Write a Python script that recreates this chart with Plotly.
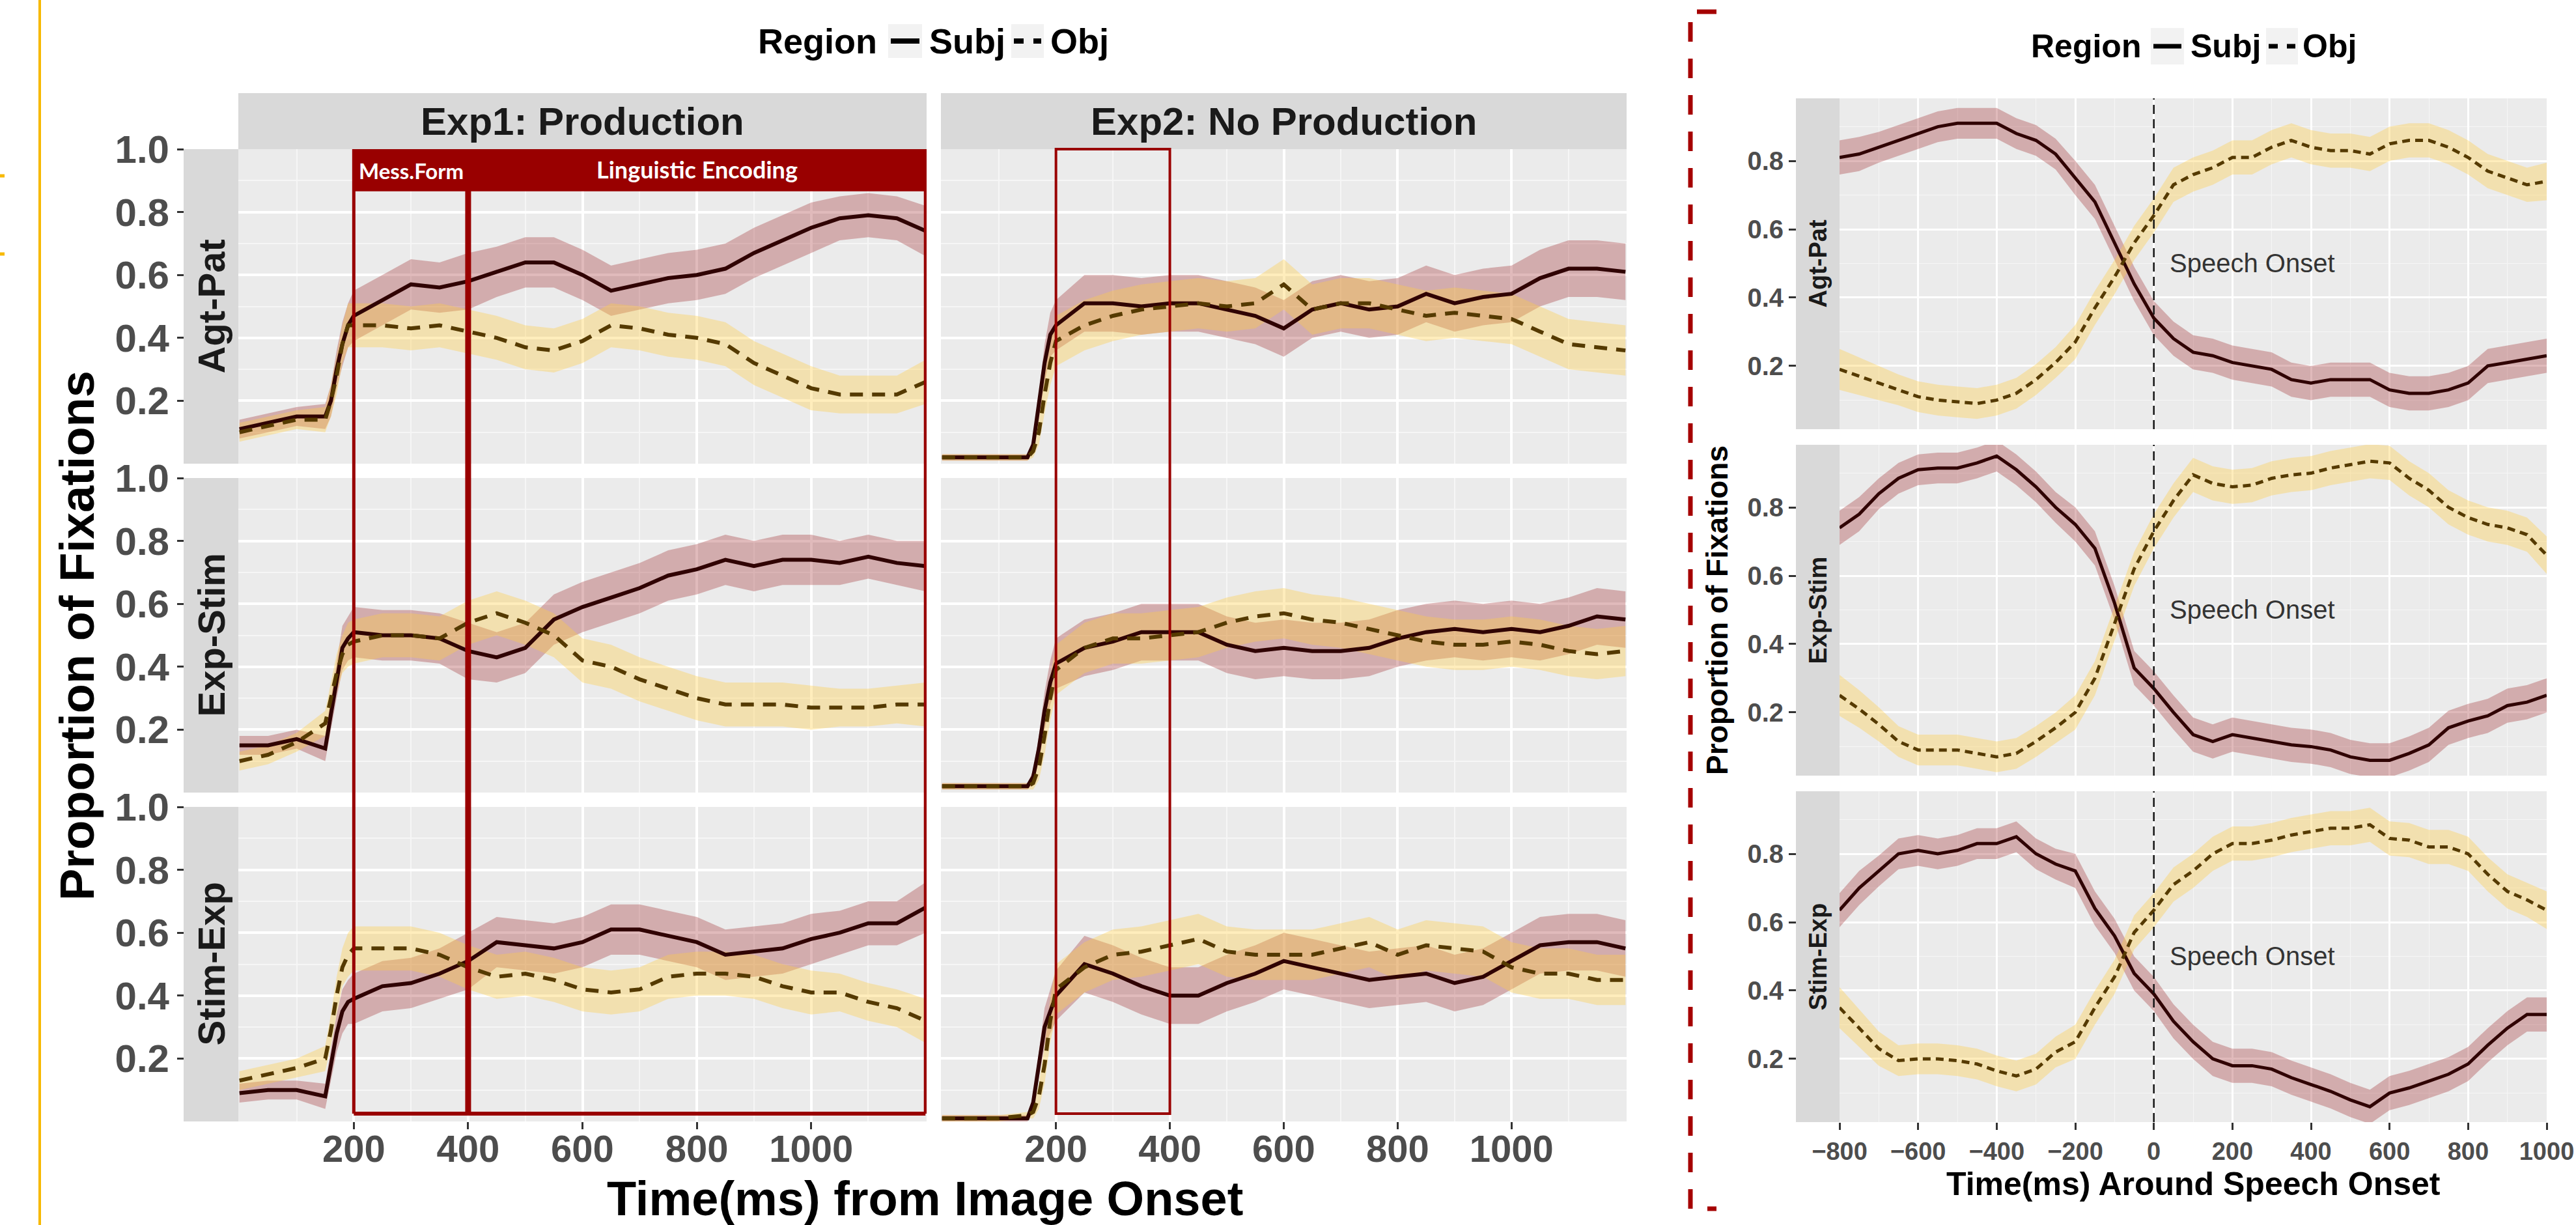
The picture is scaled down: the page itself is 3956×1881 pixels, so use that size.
import plotly.graph_objects as go

# ======================= DATA =======================
T_LEFT = [0, 50, 100, 150, 160, 170, 180, 190, 200, 250, 300, 350, 400, 450, 500, 550,
          600, 650, 700, 750, 800, 850, 900, 950, 1000, 1050, 1100, 1150, 1200]

# Exp1: Production
E1_AP_SUBJ = [0.11, 0.13, 0.15, 0.15, 0.20, 0.30, 0.38, 0.44, 0.47, 0.52, 0.57, 0.56, 0.58, 0.61, 0.64,
              0.64, 0.60, 0.55, 0.57, 0.59, 0.60, 0.62, 0.67, 0.71, 0.75, 0.78, 0.79, 0.78, 0.74]
E1_AP_OBJ = [0.10, 0.12, 0.14, 0.14, 0.20, 0.28, 0.38, 0.44, 0.44, 0.44, 0.43, 0.44, 0.42, 0.40, 0.37,
             0.36, 0.39, 0.44, 0.43, 0.41, 0.40, 0.38, 0.32, 0.28, 0.24, 0.22, 0.22, 0.22, 0.26]
E1_ES_SUBJ = [0.15, 0.15, 0.17, 0.14, 0.25, 0.36, 0.46, 0.49, 0.51, 0.50, 0.50, 0.49, 0.45, 0.43, 0.46,
              0.55, 0.59, 0.62, 0.65, 0.69, 0.71, 0.74, 0.72, 0.74, 0.74, 0.73, 0.75, 0.73, 0.72]
E1_ES_OBJ = [0.10, 0.12, 0.16, 0.22, 0.30, 0.38, 0.44, 0.47, 0.48, 0.50, 0.50, 0.49, 0.54, 0.57, 0.54,
             0.50, 0.42, 0.40, 0.36, 0.33, 0.30, 0.28, 0.28, 0.28, 0.27, 0.27, 0.27, 0.28, 0.28]
E1_SE_SUBJ = [0.09, 0.10, 0.10, 0.08, 0.18, 0.28, 0.35, 0.38, 0.39, 0.43, 0.44, 0.47, 0.51, 0.57, 0.56,
              0.55, 0.57, 0.61, 0.61, 0.59, 0.57, 0.53, 0.54, 0.55, 0.58, 0.60, 0.63, 0.63, 0.68]
E1_SE_OBJ = [0.13, 0.15, 0.17, 0.20, 0.29, 0.40, 0.49, 0.53, 0.55, 0.55, 0.55, 0.53, 0.49, 0.46, 0.47,
             0.45, 0.42, 0.41, 0.42, 0.46, 0.47, 0.47, 0.46, 0.43, 0.41, 0.41, 0.38, 0.36, 0.32]
# Exp2: No Production
E2_AP_SUBJ = [0.02, 0.02, 0.02, 0.02, 0.06, 0.18, 0.32, 0.41, 0.44, 0.51, 0.51, 0.50, 0.51, 0.51, 0.49,
              0.47, 0.43, 0.49, 0.51, 0.49, 0.50, 0.54, 0.51, 0.53, 0.54, 0.59, 0.62, 0.62, 0.61]
E2_AP_OBJ = [0.02, 0.02, 0.02, 0.02, 0.04, 0.10, 0.22, 0.32, 0.39, 0.44, 0.47, 0.49, 0.50, 0.51, 0.50,
             0.51, 0.57, 0.49, 0.51, 0.51, 0.49, 0.47, 0.48, 0.47, 0.46, 0.42, 0.38, 0.37, 0.36]
E2_ES_SUBJ = [0.02, 0.02, 0.02, 0.02, 0.05, 0.14, 0.26, 0.35, 0.41, 0.46, 0.48, 0.51, 0.51, 0.51, 0.47,
              0.45, 0.46, 0.45, 0.45, 0.46, 0.49, 0.51, 0.52, 0.51, 0.52, 0.51, 0.53, 0.56, 0.55]
E2_ES_OBJ = [0.02, 0.02, 0.02, 0.02, 0.03, 0.08, 0.18, 0.30, 0.39, 0.46, 0.49, 0.49, 0.50, 0.51, 0.54,
             0.56, 0.57, 0.55, 0.54, 0.52, 0.50, 0.48, 0.47, 0.47, 0.48, 0.47, 0.45, 0.44, 0.45]
E2_SE_SUBJ = [0.01, 0.01, 0.01, 0.01, 0.06, 0.18, 0.30, 0.35, 0.40, 0.50, 0.47, 0.43, 0.40, 0.40, 0.44,
              0.47, 0.51, 0.49, 0.47, 0.45, 0.46, 0.47, 0.44, 0.46, 0.51, 0.56, 0.57, 0.57, 0.55]
E2_SE_OBJ = [0.01, 0.01, 0.01, 0.02, 0.03, 0.08, 0.18, 0.32, 0.42, 0.49, 0.53, 0.54, 0.56, 0.58, 0.54,
             0.53, 0.53, 0.53, 0.55, 0.57, 0.53, 0.56, 0.55, 0.54, 0.49, 0.47, 0.47, 0.45, 0.45]

# ribbon half-widths
CI_E1_SUBJ = [0.03, 0.03, 0.03, 0.04, 0.05, 0.06, 0.07, 0.07, 0.08, 0.08, 0.08, 0.08, 0.09, 0.08, 0.08,
              0.08, 0.08, 0.08, 0.08, 0.08, 0.08, 0.08, 0.08, 0.08, 0.08, 0.07, 0.07, 0.07, 0.08]
CI_E1_OBJ = [0.03, 0.03, 0.03, 0.04, 0.05, 0.06, 0.06, 0.07, 0.07, 0.07, 0.07, 0.07, 0.07, 0.07, 0.07,
             0.07, 0.07, 0.07, 0.07, 0.07, 0.07, 0.07, 0.07, 0.07, 0.07, 0.06, 0.06, 0.06, 0.07]
CI_E2_SUBJ = [0.01, 0.01, 0.01, 0.01, 0.02, 0.04, 0.06, 0.07, 0.08, 0.09, 0.09, 0.09, 0.09, 0.09, 0.09,
              0.09, 0.09, 0.09, 0.09, 0.09, 0.09, 0.09, 0.09, 0.09, 0.09, 0.09, 0.09, 0.09, 0.09]
CI_E2_OBJ = [0.01, 0.01, 0.01, 0.01, 0.02, 0.04, 0.06, 0.07, 0.08, 0.08, 0.08, 0.08, 0.08, 0.08, 0.08,
             0.08, 0.08, 0.08, 0.08, 0.08, 0.08, 0.08, 0.08, 0.08, 0.08, 0.08, 0.08, 0.08, 0.08]

T_RIGHT = [-800, -750, -700, -650, -600, -550, -500, -450, -400, -350, -300, -250, -200, -150, -100,
           -50, 0, 50, 100, 150, 200, 250, 300, 350, 400, 450, 500, 550, 600, 650, 700, 750, 800,
           850, 900, 950, 1000]
R_AP_SUBJ = [0.81, 0.82, 0.84, 0.86, 0.88, 0.90, 0.91, 0.91, 0.91, 0.88, 0.86, 0.82, 0.75, 0.68, 0.56,
             0.44, 0.34, 0.28, 0.24, 0.23, 0.21, 0.20, 0.19, 0.16, 0.15, 0.16, 0.16, 0.16, 0.13, 0.12,
             0.12, 0.13, 0.15, 0.20, 0.21, 0.22, 0.23]
R_AP_OBJ = [0.19, 0.17, 0.15, 0.13, 0.11, 0.10, 0.095, 0.09, 0.10, 0.12, 0.16, 0.21, 0.27, 0.37, 0.46,
            0.56, 0.64, 0.73, 0.76, 0.78, 0.81, 0.81, 0.84, 0.86, 0.84, 0.83, 0.83, 0.82, 0.85, 0.86,
            0.86, 0.84, 0.81, 0.77, 0.75, 0.73, 0.74]
R_ES_SUBJ = [0.74, 0.78, 0.84, 0.885, 0.91, 0.915, 0.915, 0.93, 0.95, 0.91, 0.86, 0.80, 0.75, 0.68, 0.52,
             0.33, 0.27, 0.20, 0.135, 0.115, 0.135, 0.125, 0.115, 0.105, 0.10, 0.09, 0.07, 0.06, 0.06,
             0.08, 0.105, 0.155, 0.175, 0.19, 0.22, 0.23, 0.25]
R_ES_OBJ = [0.25, 0.21, 0.165, 0.115, 0.09, 0.09, 0.09, 0.08, 0.07, 0.08, 0.115, 0.155, 0.20, 0.30, 0.46,
            0.62, 0.73, 0.82, 0.895, 0.87, 0.86, 0.865, 0.885, 0.895, 0.90, 0.915, 0.925, 0.935, 0.93,
            0.885, 0.85, 0.80, 0.77, 0.75, 0.74, 0.72, 0.66]
R_SE_SUBJ = [0.635, 0.70, 0.75, 0.80, 0.81, 0.80, 0.81, 0.83, 0.83, 0.85, 0.80, 0.77, 0.75, 0.64, 0.56,
             0.45, 0.39, 0.31, 0.25, 0.20, 0.18, 0.18, 0.17, 0.145, 0.125, 0.105, 0.08, 0.06, 0.10,
             0.115, 0.135, 0.155, 0.185, 0.24, 0.29, 0.33, 0.33]
R_SE_OBJ = [0.35, 0.29, 0.23, 0.195, 0.20, 0.20, 0.195, 0.185, 0.165, 0.15, 0.17, 0.22, 0.25, 0.35, 0.44,
            0.57, 0.635, 0.71, 0.75, 0.80, 0.83, 0.83, 0.84, 0.855, 0.865, 0.875, 0.875, 0.885, 0.845,
            0.84, 0.82, 0.82, 0.80, 0.74, 0.69, 0.665, 0.635]
CI_R_SUBJ = [0.05, 0.05, 0.045, 0.045, 0.045, 0.045, 0.045, 0.045, 0.045, 0.045, 0.045, 0.045, 0.05,
             0.05, 0.05, 0.05, 0.05, 0.05, 0.05, 0.05, 0.05, 0.05, 0.05, 0.05, 0.05, 0.05, 0.05, 0.05,
             0.05, 0.05, 0.05, 0.05, 0.05, 0.05, 0.05, 0.05, 0.05]
CI_R_OBJ = [0.06, 0.055, 0.05, 0.045, 0.045, 0.045, 0.045, 0.045, 0.045, 0.045, 0.045, 0.045, 0.05,
            0.05, 0.05, 0.05, 0.05, 0.05, 0.05, 0.05, 0.05, 0.05, 0.05, 0.05, 0.05, 0.05, 0.05, 0.05,
            0.05, 0.05, 0.05, 0.05, 0.05, 0.05, 0.05, 0.05, 0.055]

ROW_LABELS = ["Agt-Pat", "Exp-Stim", "Stim-Exp"]
COL_LABELS = ["Exp1: Production", "Exp2: No Production"]
SERIES_NAMES = ["Subj", "Obj"]
LEGEND_TITLE = "Region"
LEFT_X_TITLE = "Time(ms) from Image Onset"
RIGHT_X_TITLE = "Time(ms) Around Speech Onset"
Y_TITLE = "Proportion of Fixations"
ONSET_LABEL = "Speech Onset"
ONSET_LABEL_POS = (250, 0.5)
PHASE_LABELS = ["Mess.Form", "Linguistic Encoding"]
PHASE_EDGES = [200, 400, 1200]
EXP2_WINDOW = [200, 400]
SPEECH_ONSET = 0

LEFT_X_TICKS = [200, 400, 600, 800, 1000]
LEFT_X_MINOR = [100, 300, 500, 700, 900, 1100]
LEFT_Y_TICKS = [0.2, 0.4, 0.6, 0.8, 1.0]
LEFT_Y_TEXT = ["0.2", "0.4", "0.6", "0.8", "1.0"]
Y_MINOR = [0.1, 0.3, 0.5, 0.7, 0.9]
RIGHT_X_TICKS = [-800, -600, -400, -200, 0, 200, 400, 600, 800, 1000]
RIGHT_X_MINOR = [-700, -500, -300, -100, 100, 300, 500, 700, 900]
RIGHT_Y_TICKS = [0.2, 0.4, 0.6, 0.8]

LEFT_DATA = [
    [(E1_AP_SUBJ, CI_E1_SUBJ, E1_AP_OBJ, CI_E1_OBJ), (E2_AP_SUBJ, CI_E2_SUBJ, E2_AP_OBJ, CI_E2_OBJ)],
    [(E1_ES_SUBJ, CI_E1_SUBJ, E1_ES_OBJ, CI_E1_OBJ), (E2_ES_SUBJ, CI_E2_SUBJ, E2_ES_OBJ, CI_E2_OBJ)],
    [(E1_SE_SUBJ, CI_E1_SUBJ, E1_SE_OBJ, CI_E1_OBJ), (E2_SE_SUBJ, CI_E2_SUBJ, E2_SE_OBJ, CI_E2_OBJ)],
]
RIGHT_DATA = [
    (R_AP_SUBJ, CI_R_SUBJ, R_AP_OBJ, CI_R_OBJ),
    (R_ES_SUBJ, CI_R_SUBJ, R_ES_OBJ, CI_R_OBJ),
    (R_SE_SUBJ, CI_R_SUBJ, R_SE_OBJ, CI_R_OBJ),
]

# ======================= STYLE / LAYOUT =======================
W, H = 3956, 1881
FONT = "Liberation Sans, Arial, sans-serif"
SUBJ_LINE = "#300303"
OBJ_LINE = "#553a00"
SUBJ_FILL = "rgba(160,40,45,0.32)"
OBJ_FILL = "rgba(255,205,70,0.36)"
RED = "#990000"
PANEL_BG = "#ebebeb"
STRIP_BG = "#d9d9d9"
TICK_GRAY = "#4d4d4d"

L_COLS = [(366, 1423), (1445, 2498)]
L_ROWS = [(229, 712), (734, 1217), (1239, 1722)]
L_STRIP_X = (282, 366)
L_TOP_STRIP_Y = (143, 229)
R_COL = (2825, 3911)
R_ROWS = [(151, 659), (683, 1191), (1215, 1723)]
R_STRIP_X = (2758, 2825)
L_XRANGE = [-2, 1202]
L_YRANGE = [0.0, 1.0]
R_XRANGE = [-800, 1000]
R_YRANGE = [0.015, 0.983]

LEGENDS = [
    dict(title_x=1162, y=63, keys=[(1364, 1416), (1553, 1603)], texts=[1425, 1611],
         box_y=(37, 89), size=54, lw=8, dash="15px,15px"),
    dict(title_x=3117, y=71, keys=[(3303, 3354), (3480, 3529)], texts=[3362, 3534],
         box_y=(43, 99), size=50, lw=7, dash="14px,14px"),
]


def fx(p):
    return p / W


def fy(p):
    return 1 - p / H


def axn(i):
    return ("x" if i == 1 else f"x{i}"), ("y" if i == 1 else f"y{i}")


def ann(**kw):
    d = dict(showarrow=False, xanchor="center", yanchor="middle")
    d.update(kw)
    return d


fig = go.Figure()


def add_panel(i, t, subj, subj_ci, obj, obj_ci, lw, dash):
    xa, ya = axn(i)
    for vals, ci, fill in ((subj, subj_ci, SUBJ_FILL), (obj, obj_ci, OBJ_FILL)):
        up = [v + c for v, c in zip(vals, ci)]
        lo = [v - c for v, c in zip(vals, ci)]
        fig.add_trace(go.Scatter(x=t + t[::-1], y=up + lo[::-1], mode="lines", fill="toself",
                                 fillcolor=fill, line=dict(width=0), hoverinfo="skip",
                                 showlegend=False, xaxis=xa, yaxis=ya))
    fig.add_trace(go.Scatter(x=t, y=subj, mode="lines", line=dict(color=SUBJ_LINE, width=lw),
                             showlegend=False, xaxis=xa, yaxis=ya, name=SERIES_NAMES[0]))
    fig.add_trace(go.Scatter(x=t, y=obj, mode="lines",
                             line=dict(color=OBJ_LINE, width=lw, dash=dash),
                             showlegend=False, xaxis=xa, yaxis=ya, name=SERIES_NAMES[1]))


layout = dict(width=W, height=H, margin=dict(l=0, r=0, t=0, b=0, pad=0, autoexpand=False),
              autosize=False, showlegend=False,
              paper_bgcolor="white", plot_bgcolor=PANEL_BG, font=dict(family=FONT))
shapes = []
annotations = []

# ---- left facet grid ----
for r in range(3):
    for c in range(2):
        i = r * 2 + c + 1
        subj, sci, obj, oci = LEFT_DATA[r][c]
        add_panel(i, T_LEFT, subj, sci, obj, oci, 6, "20px,14px")
        xa, ya = axn(i)
        xk = "xaxis" if i == 1 else f"xaxis{i}"
        yk = "yaxis" if i == 1 else f"yaxis{i}"
        layout[xk] = dict(
            domain=[fx(L_COLS[c][0]), fx(L_COLS[c][1])], range=L_XRANGE, anchor=ya,
            automargin=False,
            tickmode="array", tickvals=LEFT_X_TICKS, showgrid=True, gridcolor="white", gridwidth=3.5,
            minor=dict(tickmode="array", tickvals=LEFT_X_MINOR, showgrid=True,
                       gridcolor="#f6f6f6", gridwidth=1.8),
            zeroline=False, showline=False, ticks="outside" if r == 2 else "", ticklen=11,
            tickwidth=2.5, tickcolor="#333333", showticklabels=(r == 2), ticklabelstandoff=-20,
            tickfont=dict(family=FONT, size=58, color=TICK_GRAY, weight="bold"))
        ydict = dict(
            domain=[fy(L_ROWS[r][1]), fy(L_ROWS[r][0])], range=L_YRANGE, automargin=False,
            tickmode="array", tickvals=LEFT_Y_TICKS, ticktext=LEFT_Y_TEXT,
            showgrid=True, gridcolor="white", gridwidth=3.5,
            minor=dict(tickmode="array", tickvals=Y_MINOR, showgrid=True,
                       gridcolor="#f6f6f6", gridwidth=1.8),
            zeroline=False, showline=False)
        if c == 0:
            ydict.update(anchor="free", position=fx(L_STRIP_X[0]), ticks="outside", ticklen=10,
                         tickwidth=2.5, tickcolor="#333333", showticklabels=True,
                         tickfont=dict(family=FONT, size=60, color=TICK_GRAY, weight="bold"))
        else:
            ydict.update(anchor=xa, ticks="", showticklabels=False)
        layout[yk] = ydict

# ---- right facet column ----
for r in range(3):
    i = 7 + r
    subj, sci, obj, oci = RIGHT_DATA[r]
    add_panel(i, T_RIGHT, subj, sci, obj, oci, 5, "12px,8px")
    xa, ya = axn(i)
    layout[f"xaxis{i}"] = dict(
        domain=[fx(R_COL[0]), fx(R_COL[1])], range=R_XRANGE, anchor=ya, automargin=False,
        tickmode="array", tickvals=RIGHT_X_TICKS, showgrid=True, gridcolor="white", gridwidth=2.6,
        minor=dict(tickmode="array", tickvals=RIGHT_X_MINOR, showgrid=True,
                   gridcolor="#f6f6f6", gridwidth=1.3),
        zeroline=False, showline=False, ticks="outside" if r == 2 else "", ticklen=11,
        tickwidth=2.5, tickcolor="#333333", showticklabels=(r == 2),
        tickfont=dict(family=FONT, size=38, color=TICK_GRAY, weight="bold"))
    layout[f"yaxis{i}"] = dict(
        domain=[fy(R_ROWS[r][1]), fy(R_ROWS[r][0])], range=R_YRANGE, anchor="free",
        position=fx(R_STRIP_X[0]), automargin=False, tickmode="array", tickvals=RIGHT_Y_TICKS,
        showgrid=True, gridcolor="white", gridwidth=2.6,
        minor=dict(tickmode="array", tickvals=Y_MINOR, showgrid=True,
                   gridcolor="#f6f6f6", gridwidth=1.3),
        zeroline=False, showline=False, ticks="outside", ticklen=11, tickwidth=2.5,
        tickcolor="#333333", tickfont=dict(family=FONT, size=40, color=TICK_GRAY, weight="bold"))
    shapes.append(dict(type="line", xref=xa, yref=f"{ya} domain", x0=SPEECH_ONSET, x1=SPEECH_ONSET,
                       y0=0, y1=1, line=dict(color="#111111", width=2.5, dash="14px,8px"),
                       layer="above"))
    annotations.append(ann(xref=xa, yref=ya, x=ONSET_LABEL_POS[0], y=ONSET_LABEL_POS[1],
                           text=ONSET_LABEL, font=dict(family=FONT, size=40, color="#333333")))
    shapes.append(dict(type="rect", xref="paper", yref="paper", x0=fx(R_STRIP_X[0]),
                       x1=fx(R_STRIP_X[1]), y0=fy(R_ROWS[r][1]), y1=fy(R_ROWS[r][0]),
                       fillcolor=STRIP_BG, line=dict(width=0), layer="below"))
    annotations.append(ann(xref="paper", yref="paper", x=fx(sum(R_STRIP_X) / 2),
                           y=fy(sum(R_ROWS[r]) / 2), text=f"<b>{ROW_LABELS[r]}</b>",
                           textangle=-90, font=dict(family=FONT, size=38, color="#1a1a1a")))

# ---- left strips ----
for c in range(2):
    shapes.append(dict(type="rect", xref="paper", yref="paper", x0=fx(L_COLS[c][0]),
                       x1=fx(L_COLS[c][1]), y0=fy(L_TOP_STRIP_Y[1]), y1=fy(L_TOP_STRIP_Y[0]),
                       fillcolor=STRIP_BG, line=dict(width=0), layer="below"))
    annotations.append(ann(xref="paper", yref="paper", x=fx(sum(L_COLS[c]) / 2),
                           y=fy(sum(L_TOP_STRIP_Y) / 2), text=f"<b>{COL_LABELS[c]}</b>",
                           font=dict(family=FONT, size=60, color="#1a1a1a")))
for r in range(3):
    shapes.append(dict(type="rect", xref="paper", yref="paper", x0=fx(L_STRIP_X[0]),
                       x1=fx(L_STRIP_X[1]), y0=fy(L_ROWS[r][1]), y1=fy(L_ROWS[r][0]),
                       fillcolor=STRIP_BG, line=dict(width=0), layer="below"))
    annotations.append(ann(xref="paper", yref="paper", x=fx(sum(L_STRIP_X) / 2),
                           y=fy(sum(L_ROWS[r]) / 2), text=f"<b>{ROW_LABELS[r]}</b>",
                           textangle=-90, font=dict(family=FONT, size=58, color="#1a1a1a")))


# ---- red phase boxes (left figure) ----
def row_paper(r, v, yr=L_YRANGE):
    lo, hi = fy(L_ROWS[r][1]), fy(L_ROWS[r][0])
    return lo + (v - yr[0]) / (yr[1] - yr[0]) * (hi - lo)


BOX_TOP = row_paper(0, 1.0)
BOX_BOTTOM_VAL = 0.025
BOX_BOTTOM = row_paper(2, BOX_BOTTOM_VAL)
BAND_BOTTOM_VAL = 0.866

shapes.append(dict(type="rect", xref="x", yref="y", x0=PHASE_EDGES[0], x1=PHASE_EDGES[2],
                   y0=BAND_BOTTOM_VAL, y1=1.0, fillcolor=RED, line=dict(width=0), layer="above"))
for xe, w in zip(PHASE_EDGES, [5, 9, 5]):
    shapes.append(dict(type="line", xref="x", yref="paper", x0=xe, x1=xe, y0=BOX_BOTTOM,
                       y1=BOX_TOP, line=dict(color=RED, width=w), layer="above"))
shapes.append(dict(type="line", xref="x5", yref="y5", x0=PHASE_EDGES[0], x1=PHASE_EDGES[2],
                   y0=BOX_BOTTOM_VAL, y1=BOX_BOTTOM_VAL, line=dict(color=RED, width=6),
                   layer="above"))
annotations.append(ann(xref="x", yref="y", x=(PHASE_EDGES[0] + PHASE_EDGES[1]) / 2, y=0.932,
                       text=f"<b>{PHASE_LABELS[0]}</b>",
                       font=dict(family="Lato, Open Sans, sans-serif", size=33, color="white")))
annotations.append(ann(xref="x", yref="y", x=800, y=0.935,
                       text=f"<b>{PHASE_LABELS[1]}</b>",
                       font=dict(family="Lato, Open Sans, sans-serif", size=36, color="white")))
shapes.append(dict(type="rect", xref="x2", yref="paper", x0=EXP2_WINDOW[0], x1=EXP2_WINDOW[1],
                   y0=BOX_BOTTOM, y1=BOX_TOP, line=dict(color=RED, width=4),
                   fillcolor="rgba(0,0,0,0)", layer="above"))

# ---- axis titles ----
annotations += [
    ann(xref="paper", yref="paper", x=fx(118), y=fy(976), text=f"<b>{Y_TITLE}</b>",
        textangle=-90, font=dict(family=FONT, size=74, color="black")),
    ann(xref="paper", yref="paper", x=fx(1420), y=fy(1840), text=f"<b>{LEFT_X_TITLE}</b>",
        font=dict(family=FONT, size=74, color="black")),
    ann(xref="paper", yref="paper", x=fx(2637), y=fy(937), text=f"<b>{Y_TITLE}</b>",
        textangle=-90, font=dict(family=FONT, size=46, color="black")),
    ann(xref="paper", yref="paper", x=fx(3368), y=fy(1818), text=f"<b>{RIGHT_X_TITLE}</b>",
        font=dict(family=FONT, size=50, color="black")),
]

# ---- legends (drawn as keys + text) ----
for leg in LEGENDS:
    annotations.append(ann(xref="paper", yref="paper", x=fx(leg["title_x"]), y=fy(leg["y"]),
                           xanchor="left", text=f"<b>{LEGEND_TITLE}</b>",
                           font=dict(family=FONT, size=leg["size"], color="black")))
    for k, ((k0, k1), tx, name) in enumerate(zip(leg["keys"], leg["texts"], SERIES_NAMES)):
        shapes.append(dict(type="rect", xref="paper", yref="paper", x0=fx(k0), x1=fx(k1),
                           y0=fy(leg["box_y"][1]), y1=fy(leg["box_y"][0]), fillcolor="#f2f2f2",
                           line=dict(width=0), layer="below"))
        shapes.append(dict(type="line", xref="paper", yref="paper", x0=fx(k0 + 4), x1=fx(k1 - 4),
                           y0=fy(leg["y"]), y1=fy(leg["y"]),
                           line=dict(color="black", width=leg["lw"],
                                     dash="solid" if k == 0 else leg["dash"])))
        annotations.append(ann(xref="paper", yref="paper", x=fx(tx), y=fy(leg["y"]),
                               xanchor="left", text=f"<b>{name}</b>",
                               font=dict(family=FONT, size=leg["size"], color="black")))

# ---- decorations: gold rule at left, dashed red bracket ----
shapes.append(dict(type="line", xref="paper", yref="paper", x0=fx(61), x1=fx(61), y0=0, y1=1,
                   line=dict(color="#f7b900", width=4)))
for yy in (270, 390):
    shapes.append(dict(type="line", xref="paper", yref="paper", x0=0, x1=fx(7), y0=fy(yy),
                       y1=fy(yy), line=dict(color="#f7b900", width=5)))
bx0, bx1, by0, by1 = fx(2596), fx(2636), fy(18), fy(1856)
shapes.append(dict(type="path", xref="paper", yref="paper",
                   path=f"M {bx1},{by0} L {bx0},{by0} L {bx0},{by1} L {bx1},{by1}",
                   line=dict(color="#a50000", width=7, dash="30px,26px")))

layout["shapes"] = shapes
layout["annotations"] = annotations
fig.update_layout(**layout)
fig.write_html("out.html", config={"displayModeBar": False},
               post_script="document.body.style.margin='0px';")
